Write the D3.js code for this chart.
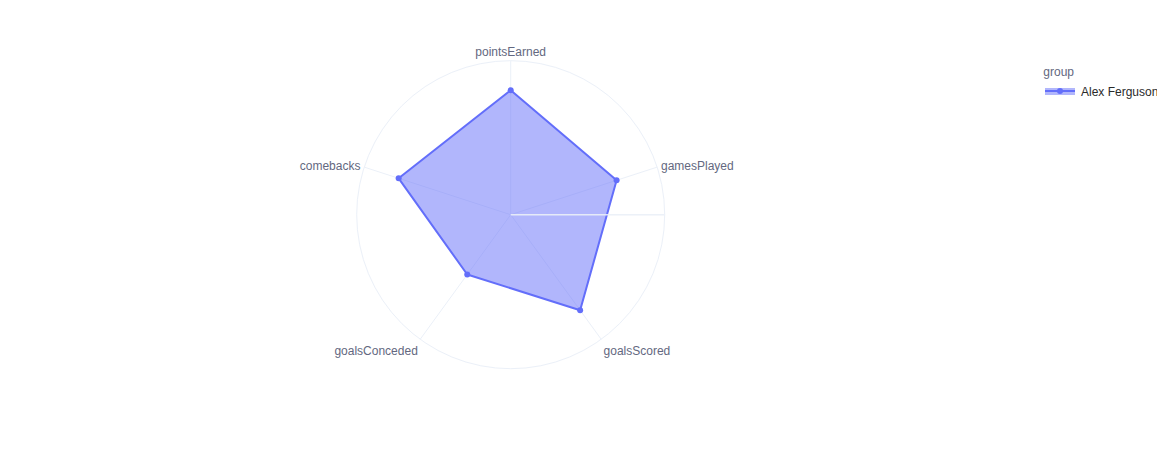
<!DOCTYPE html>
<html>
<head>
<meta charset="utf-8">
<script src="https://cdn.jsdelivr.net/npm/d3@7"></script>
<style>
  html, body { margin: 0; padding: 0; background: #fff; }
  svg text { font-family: "Liberation Sans", Arial, sans-serif; }
</style>
</head>
<body>
<svg id="chart" width="1157" height="450"></svg>
<script>
// ---- data ----
const categories = ["pointsEarned", "gamesPlayed", "goalsScored", "goalsConceded", "comebacks"];
const values = [0.808, 0.723, 0.767, 0.48, 0.765];
const seriesName = "Alex Ferguson";
const legendTitle = "group";
const radialRange = [0, 1];

// ---- layout ----
const svg = d3.select("#chart");
const cx = 510.7, cy = 214.7, R = 154;
const gridColor = "#EBF0F8";
const lineColor = "#636efa";
const labelColor = "#636880";

const rScale = d3.scaleLinear().domain(radialRange).range([0, R]);
const step = 2 * Math.PI / categories.length;
const angleOf = c => categories.indexOf(c) * step; // clockwise from top (radians)
const pt = (c, r) => {
  const a = angleOf(c);
  return [cx + r * Math.sin(a), cy - r * Math.cos(a)];
};

const g = svg.append("g");

// outer circle
g.append("circle").attr("cx", cx).attr("cy", cy).attr("r", R)
  .attr("fill", "none").attr("stroke", gridColor).attr("stroke-width", 1);

// spokes
g.selectAll("line.spoke").data(categories).join("line")
  .attr("class", "spoke")
  .attr("x1", cx).attr("y1", cy)
  .attr("x2", d => pt(d, R)[0]).attr("y2", d => pt(d, R)[1])
  .attr("stroke", gridColor).attr("stroke-width", 1);

// trace
const points = categories.map((c, i) => pt(c, rScale(values[i])));
g.append("path")
  .attr("d", d3.line()(points.concat([points[0]])))
  .attr("fill", "rgba(99,110,250,0.5)")
  .attr("stroke", lineColor).attr("stroke-width", 2)
  .attr("stroke-linejoin", "round");

g.selectAll("circle.pt").data(points).join("circle")
  .attr("class", "pt")
  .attr("cx", d => d[0]).attr("cy", d => d[1]).attr("r", 3)
  .attr("fill", lineColor);

// radial axis line (above traces)
g.append("line")
  .attr("x1", cx).attr("y1", cy).attr("x2", cx + R).attr("y2", cy)
  .attr("stroke", gridColor).attr("stroke-width", 1.5).attr("opacity", 0.9);

// angular labels
g.selectAll("text.lab").data(categories).join("text")
  .attr("class", "lab")
  .each(function(d) {
    const a = angleOf(d);
    const s = Math.cos(a), c = Math.sin(a);
    const p = pt(d, R + 4);
    const anchor = c > 0.01 ? "start" : (c < -0.01 ? "end" : "middle");
    const off = s > 0 ? -s * 6.5 + 1.8 : -s * 10.5;
    d3.select(this)
      .attr("x", p[0]).attr("y", p[1] + off)
      .attr("text-anchor", anchor)
      .attr("dominant-baseline", "central");
  })
  .attr("font-size", 12)
  .attr("fill", labelColor)
  .text(d => d);

// legend
const lg = svg.append("g");
lg.append("text").attr("x", 1043.3).attr("y", 75.5).attr("font-size", 12)
  .attr("fill", labelColor).text(legendTitle);
lg.append("rect").attr("x", 1045).attr("y", 88).attr("width", 30).attr("height", 7)
  .attr("fill", "rgba(99,110,250,0.5)");
lg.append("line").attr("x1", 1045).attr("x2", 1075).attr("y1", 91).attr("y2", 91)
  .attr("stroke", lineColor).attr("stroke-width", 2);
lg.append("circle").attr("cx", 1060).attr("cy", 91).attr("r", 3).attr("fill", lineColor);
lg.append("text").attr("x", 1081).attr("y", 91.5).attr("dominant-baseline", "central")
  .attr("font-size", 12).attr("fill", "#2a2a2a").text(seriesName);
</script>
</body>
</html>
